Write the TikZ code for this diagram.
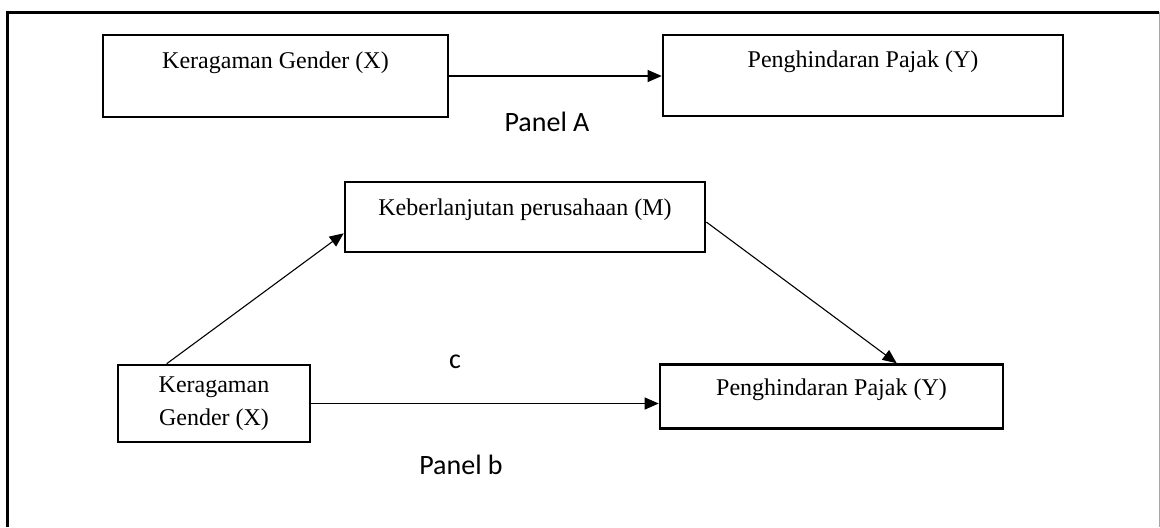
\documentclass[tikz,border=0pt]{standalone}
\usepackage{fontspec}
\setmainfont{Liberation Serif}
\newfontfamily\calib{Carlito}
\usetikzlibrary{arrows.meta}
\tikzset{
  box/.style={draw, line width=1.3pt, inner sep=0pt},
  btext/.style={font=\fontsize{12}{14.5}\selectfont, align=center, inner sep=0pt},
  ptext/.style={font=\calib\fontsize{14}{16}\selectfont, inner sep=0pt},
  conn/.style={line width=0.55pt, -{Triangle[length=7pt,width=6pt]}},
}
\begin{document}
\begin{tikzpicture}[x=0.5pt,y=-0.5pt]
\useasboundingbox (0,0) rectangle (1160,527);
% outer frame
\coordinate (fbl) at (7,527);
\coordinate (ftl) at (7,12);
\coordinate (ftr) at (1159,12);
\coordinate (fbr) at (1159,527);
\draw[line width=1.5pt] (fbl) -- (ftl) -- (ftr);
\draw[line width=0.5pt, gray!70] (ftr) -- (fbr);
% Panel A
\node[box, minimum width=172.5pt, minimum height=41pt] (a1) at (275.5,76) {};
\node[btext] (a1t) at (275.5,63) {Keragaman Gender (X)};
\node[box, minimum width=200pt, minimum height=40.5pt] (a2) at (863,75.5) {};
\node[btext] (a2t) at (863,62) {Penghindaran Pajak (Y)};
\draw[conn] (a1.east) -- (a1.east -| a2.west);
\node[ptext] (pa) at (547,122) {Panel A};
% Panel b
\node[box, minimum width=180pt, minimum height=35pt] (m) at (525,217) {};
\node[btext] (mt) at (525,210) {Keberlanjutan perusahaan (M)};
\node[box, minimum width=96pt, minimum height=38.5pt] (x2) at (214,403.5) {};
\node[btext] (x2t) at (214,403.5) {Keragaman\\[2pt]Gender (X)};
\node[box, minimum width=171.5pt, minimum height=32pt] (y2) at (831.5,396.5) {};
\node[btext] (y2t) at (831.5,390) {Penghindaran Pajak (Y)};
\draw[conn] ([xshift=25pt]x2.north west) -- ([yshift=10pt]m.south west);
\draw[conn] ([yshift=-2.5pt]m.east) -- ([xshift=119pt]y2.north west);
\draw[conn] (x2.east) -- (x2.east -| y2.west);
\node[ptext] (c) at (455,362) {c};
\node[ptext] (pb) at (461,465) {Panel b};
\end{tikzpicture}
\end{document}
